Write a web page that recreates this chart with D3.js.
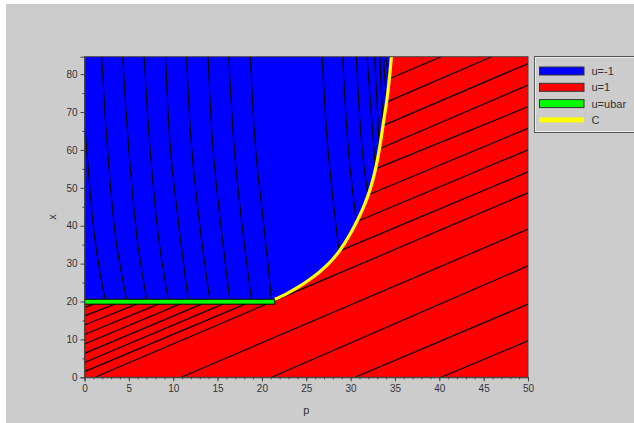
<!DOCTYPE html>
<html><head><meta charset="utf-8">
<script src="https://cdn.jsdelivr.net/npm/d3@7/dist/d3.min.js"></script>
<style>body{margin:0;background:#fff}svg{display:block}</style>
</head><body>
<svg id="chart" width="634" height="423"></svg>
<script>
// ---- data (p, x) ----
const pTickLabels = [0,5,10,15,20,25,30,35,40,45,50];
const xTickLabels = [0,10,20,30,40,50,60,70,80];
const pDomain = [0,50];
const xDomain = [0,84.6];

// switching curve C
const curveC = [[21.45,20.6],[22.5,21.7],[23.5,23.0],[24.5,24.4],[25.5,26.0],[26.5,27.8],[27.5,29.9],[28.5,32.6],[29.3,35.3],[30.0,38.0],[30.7,41.1],[31.4,44.6],[32.0,48.2],[32.5,52.0],[32.9,56.0],[33.3,61.0],[33.7,67.2],[34.1,73.4],[34.4,79.5],[34.6,84.6]];

// u=ubar segment
const ubarSeg = {p0:0, p1:21.45, xLow:19.3, xHigh:20.6};

// u=-1 trajectories (left family), points top -> bottom
const blueLeft = [
  [[0,67.0],[0.25,60],[1.18,36.2],[2.31,20.6]],
  [[1.94,84.6],[2.6,60],[3.55,36.2],[4.75,20.6]],
  [[4.3,84.6],[5.0,60],[5.95,36.2],[7.0,20.6]],
  [[6.73,84.6],[7.4,60],[8.39,36.2],[9.44,20.6]],
  [[9.14,84.6],[9.7,60],[10.83,36.2],[11.69,20.6]],
  [[11.5,84.6],[12.1,60],[13.2,36.2],[14.13,20.6]],
  [[13.94,84.6],[14.5,60],[15.56,36.2],[16.39,20.6]],
  [[16.27,84.6],[16.9,60],[17.96,36.2],[18.83,20.6]],
  [[18.7,84.6],[19.3,60],[20.4,36.2],[21.08,20.6]]
];
// u=-1 trajectories ending on C
const blueRight = [
  [[26.8,84.6],[27.45,60],[28.7,33.3]],
  [[29.1,84.6],[29.75,60],[30.65,41.05]],
  [[30.65,84.6],[31.3,60],[31.96,48.1]],
  [[31.85,84.6],[32.8,55.0]],
  [[32.7,84.6],[33.25,60.3]],
  [[33.3,84.6],[33.65,66.4]],
  [[33.7,84.6],[34.05,72.6]],
  [[33.95,84.6],[34.37,78.8]]
];
// u=1 trajectories
const redLines = [
  [[0,18.4],[0.99,19.3]],
  [[0,16.2],[3.43,19.3]],
  [[0,13.8],[5.88,19.3]],
  [[0,11.3],[8.32,19.3]],
  [[0,8.8],[10.76,19.3]],
  [[0,6.3],[13.2,19.3]],
  [[0,3.9],[15.6,19.3]],
  [[0,1.5],[18.1,19.3]],
  [[1.18,0],[20.5,19.3]],
  [[10.9,0],[50,39.1]],
  [[21.1,0],[50,29.4]],
  [[30.5,0],[50,19.3]],
  [[40.2,0],[50,9.6]],
  [[21.5,20.3],[50,48.7]],
  [[28.7,33.3],[50,54.2]],
  [[30.65,41.05],[50,60.0]],
  [[31.96,48.1],[50,65.7]],
  [[32.8,55.0],[50,71.4]],
  [[33.25,60.3],[50,77.1]],
  [[33.65,66.4],[50,82.8]],
  [[34.05,72.6],[45.9,84.6]],
  [[34.37,78.8],[40.2,84.6]]
];
const legendLabels = ["u=-1","u=1","u=ubar","C"];
const legendColors = ["#0000ff","#ff0000","#00ff00","#ffff00"];

// ---- drawing ----
const svg = d3.select("#chart");
const sx = d3.scaleLinear().domain(pDomain).range([84.5,528]);
const sy = d3.scaleLinear().domain(xDomain).range([377.3,56.7]);
const font = "'Liberation Sans', Arial, sans-serif";
const txt = "#333";

svg.append("rect").attr("x",6).attr("y",4).attr("width",628).attr("height",419).attr("fill","#cccccc");

svg.append("defs").append("clipPath").attr("id","clip")
  .append("rect").attr("x",sx(0)).attr("y",sy(xDomain[1])).attr("width",sx(50)-sx(0)).attr("height",sy(0)-sy(xDomain[1]));

const plot = svg.append("g").attr("clip-path","url(#clip)");
plot.append("rect").attr("x",sx(0)).attr("y",sy(xDomain[1])).attr("width",sx(50)-sx(0)).attr("height",sy(0)-sy(xDomain[1])).attr("fill","#ff0000");

// blue region
const bluePoly = [[0,xDomain[1]]].concat(curveC.slice().reverse()).concat([[0,ubarSeg.xHigh]]);
plot.append("path").attr("d", d3.line().x(d=>sx(d[0])).y(d=>sy(d[1]))(bluePoly)+"Z").attr("fill","#0000ff");

const lineSmooth = d3.line().x(d=>sx(d[0])).y(d=>sy(d[1])).curve(d3.curveCatmullRom);
const lineStraight = d3.line().x(d=>sx(d[0])).y(d=>sy(d[1]));

plot.selectAll(".rl").data(redLines).join("path").attr("d",lineStraight).attr("fill","none").attr("stroke","#000").attr("stroke-width",1.2);
plot.selectAll(".bl").data(blueLeft.concat(blueRight)).join("path").attr("d",lineSmooth).attr("fill","none").attr("stroke","#000").attr("stroke-width",1.2);

// ubar band
plot.append("rect").attr("x",sx(ubarSeg.p0)).attr("y",sy(ubarSeg.xHigh)).attr("width",sx(ubarSeg.p1)-sx(ubarSeg.p0)).attr("height",sy(ubarSeg.xLow)-sy(ubarSeg.xHigh))
  .attr("fill","#00ff00").attr("stroke","#000").attr("stroke-width",1);

// C curve
plot.append("path").attr("d",lineSmooth(curveC)).attr("fill","none").attr("stroke","#ffff00").attr("stroke-width",3.2);

// axes box
svg.append("rect").attr("x",sx(0)).attr("y",sy(xDomain[1])).attr("width",sx(50)-sx(0)).attr("height",sy(0)-sy(xDomain[1])).attr("fill","none").attr("stroke","#444").attr("stroke-width",1);

// bottom axis
const xAxisG = svg.append("g").attr("transform",`translate(0,${sy(0)})`);
xAxisG.call(d3.axisBottom(sx).tickValues(d3.range(0,51,1)).tickSize(2).tickFormat(""));
xAxisG.call(g=>g.select(".domain").remove());
const xAxisMaj = svg.append("g").attr("transform",`translate(0,${sy(0)})`)
  .call(d3.axisBottom(sx).tickValues(pTickLabels).tickSize(4).tickPadding(4).tickFormat(d3.format("d")));
xAxisMaj.select(".domain").attr("stroke","#444");
xAxisMaj.selectAll("text").attr("font-family",font).attr("font-size",10).attr("fill",txt);

// left axis
const yAxisMin = svg.append("g").attr("transform",`translate(${sx(0)},0)`)
  .call(d3.axisLeft(sy).tickValues([5,15,25,35,45,55,65,75]).tickSize(2).tickFormat(""));
yAxisMin.select(".domain").remove();
const yAxisMaj = svg.append("g").attr("transform",`translate(${sx(0)},0)`)
  .call(d3.axisLeft(sy).tickValues(xTickLabels).tickSize(4).tickPadding(3).tickFormat(d3.format("d")));
yAxisMaj.select(".domain").attr("stroke","#444");
yAxisMaj.selectAll("text").attr("font-family",font).attr("font-size",10).attr("fill",txt);
svg.selectAll(".tick line").attr("stroke","#444");

// axis titles
svg.append("text").attr("x",(sx(0)+sx(50))/2).attr("y",414).attr("text-anchor","middle")
  .attr("font-family",font).attr("font-size",11).attr("fill",txt).text("p");
svg.append("text").attr("transform",`translate(56,${(sy(0)+sy(xDomain[1]))/2}) rotate(-90)`).attr("text-anchor","middle")
  .attr("font-family",font).attr("font-size",11).attr("fill",txt).text("x");

// legend
const lg = svg.append("g");
lg.append("rect").attr("x",534.5).attr("y",56.5).attr("width",105).attr("height",76).attr("fill","#cccccc").attr("stroke","#555").attr("stroke-width",1);
lg.append("rect").attr("x",535.5).attr("y",57.5).attr("width",105).attr("height",74).attr("fill","none").attr("stroke","#eee").attr("stroke-width",1);
legendLabels.forEach((lab,i)=>{
  const cy = 71 + i*16.3;
  if (i<3) {
    lg.append("rect").attr("x",539.5).attr("y",cy-4).attr("width",44.5).attr("height",8).attr("fill",legendColors[i]).attr("stroke","#333").attr("stroke-width",1);
  } else {
    lg.append("rect").attr("x",539.5).attr("y",cy-2.5).attr("width",44.5).attr("height",5).attr("fill",legendColors[i]);
  }
  lg.append("text").attr("x",591.5).attr("y",cy+4).attr("font-family",font).attr("font-size",11).attr("fill",txt).text(lab);
});
</script>
</body></html>
